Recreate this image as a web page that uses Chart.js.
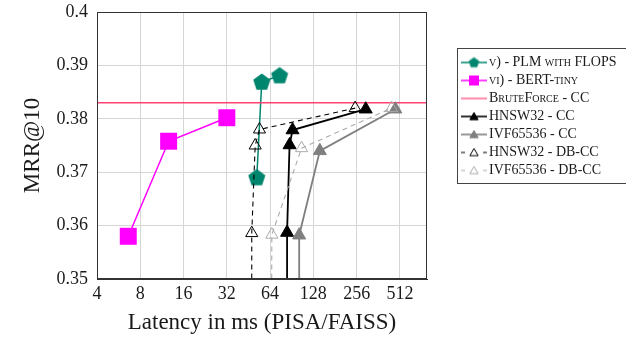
<!DOCTYPE html>
<html>
<head>
<meta charset="utf-8">
<script src="https://cdn.jsdelivr.net/npm/chart.js@4.4.1/dist/chart.umd.min.js"></script>
<style>
  html, body { margin: 0; padding: 0; background: #ffffff; overflow: hidden; }
  #wrap { position: relative; width: 680px; height: 342px; }
</style>
</head>
<body>
<div id="wrap"><canvas id="c" width="680" height="342"></canvas></div>
<script>
// ---------------- data ----------------
const X_TICKS = [4, 8, 16, 32, 64, 128, 256, 512];
const Y_TICKS = [0.35, 0.36, 0.37, 0.38, 0.39, 0.40];
const X_MIN = 4, X_MAX = 790;
const Y_MIN = 0.35, Y_MAX = 0.40;

const SERIES_LABELS = [
  'v) - PLM with FLOPS',
  'vi) - BERT-tiny',
  'BruteForce - CC',
  'HNSW32 - CC',
  'IVF65536 - CC',
  'HNSW32 - DB-CC',
  'IVF65536 - DB-CC'
];

const PLM_LAT = [51.7, 56.0, 74.5];
const PLM_MRR = [0.3690, 0.3869, 0.3881];

const BERT_LAT = [6.6, 12.6, 32.0];
const BERT_MRR = [0.3580, 0.3758, 0.3802];

const BRUTE_LAT = [X_MIN, X_MAX];
const BRUTE_MRR = [0.3830, 0.3830];

const HNSW_CC_LAT = [84.0, 84.0, 87.4, 91.7, 296];
const HNSW_CC_MRR = [0.3400, 0.3587, 0.3751, 0.3779, 0.3818];

const IVF_CC_LAT = [102, 102, 142, 476];
const IVF_CC_MRR = [0.3400, 0.3582, 0.3740, 0.3818];

const HNSW_DB_LAT = [47.7, 47.7, 50.4, 54.0, 250];
const HNSW_DB_MRR = [0.3400, 0.3586, 0.3750, 0.3780, 0.3820];

const IVF_DB_LAT = [65.5, 65.8, 106, 448];
const IVF_DB_MRR = [0.3400, 0.3583, 0.3745, 0.3820];

// ---------------- styles ----------------
const TEAL = '#00866f', MAG = '#ff00ff', PINK = '#ff4272', BLACK = '#000000', GRAY = '#7f7f7f', LGRAY = '#ababab';
const FONT = "'Liberation Serif', 'Times New Roman', serif";

function pentagonCanvas(r, color) {
  const s = Math.ceil(2 * r + 2);
  const c = document.createElement('canvas');
  c.width = s; c.height = s;
  const g = c.getContext('2d');
  g.translate(s / 2, s / 2 + r * 0.05);
  g.beginPath();
  for (let k = 0; k < 5; k++) {
    const a = -Math.PI / 2 + k * 2 * Math.PI / 5;
    g.lineTo(r * Math.cos(a), r * Math.sin(a));
  }
  g.closePath();
  g.fillStyle = color; g.fill();
  return c;
}

function legendSym(o) {
  const W = 40, H = 16, OFF = 2;
  const c = document.createElement('canvas');
  c.width = W; c.height = H;
  const g = c.getContext('2d');
  g.translate(W / 2 + OFF, H / 2);
  g.strokeStyle = o.color; g.lineWidth = o.lw;
  g.beginPath();
  if (o.dashed) {
    g.moveTo(-13, 0); g.lineTo(-9, 0);
    g.moveTo(9, 0); g.lineTo(13, 0);
  } else {
    g.moveTo(-13, 0); g.lineTo(13, 0);
  }
  g.stroke();
  if (o.marker === 'pentagon') {
    const p = pentagonCanvas(5.5, o.color);
    g.drawImage(p, -p.width / 2, -p.height / 2);
  } else if (o.marker === 'rect') {
    g.fillStyle = o.color; g.fillRect(-5, -5, 10, 10);
  } else if (o.marker === 'triangle' || o.marker === 'otriangle') {
    const r = 4.8;
    g.beginPath();
    for (let k = 0; k < 3; k++) {
      const a = -Math.PI / 2 + k * 2 * Math.PI / 3;
      g.lineTo(r * Math.cos(a), r * Math.sin(a) + 0.8);
    }
    g.closePath();
    if (o.marker === 'triangle') { g.fillStyle = o.color; g.fill(); }
    g.lineWidth = 1; g.strokeStyle = o.color; g.stroke();
  }
  return c;
}

const LEGEND_SYMS = [
  legendSym({color: TEAL, lw: 1.5, marker: 'pentagon'}),
  legendSym({color: MAG, lw: 1.5, marker: 'rect'}),
  legendSym({color: PINK, lw: 1.2}),
  legendSym({color: BLACK, lw: 1.6, marker: 'triangle'}),
  legendSym({color: GRAY, lw: 1.6, marker: 'triangle'}),
  legendSym({color: BLACK, lw: 1.1, dashed: true, marker: 'otriangle'}),
  legendSym({color: LGRAY, lw: 1.1, dashed: true, marker: 'otriangle'})
];

const pts = (xs, ys) => xs.map((x, i) => ({x: x, y: ys[i]}));
const PENTA = pentagonCanvas(9, TEAL);

const framePlugin = {
  id: 'frame',
  beforeDraw(chart) {
    const lg = chart.legend, a = chart.chartArea;
    lg.left = a.right + 31;
    lg.top = a.top + 39.5;
    lg.width = 300; lg.height = 140;
    lg.right = lg.left + lg.width;
    lg.bottom = lg.top + lg.height;
  },
  afterDatasetsDraw(chart) {
    const {ctx, chartArea: a} = chart;
    ctx.save();
    ctx.strokeStyle = '#333333'; ctx.lineWidth = 1;
    const l = Math.round(a.left) + 0.5, t = Math.round(a.top) + 0.5;
    const r = Math.round(a.right) - 0.5, b = Math.round(a.bottom) - 0.5;
    ctx.strokeRect(l, t, r - l, b - t);
    ctx.restore();
  },
  afterDraw(chart) {
    const {ctx} = chart, lg = chart.legend;
    ctx.save();
    ctx.strokeStyle = '#444444'; ctx.lineWidth = 1;
    ctx.strokeRect(Math.round(lg.left) - 0.5, Math.round(lg.top - 3) - 0.5, 400, 135);
    ctx.restore();
  }
};

Chart.defaults.font.family = FONT;
Chart.defaults.color = '#1a1a1a';

new Chart(document.getElementById('c'), {
  type: 'line',
  data: {
    datasets: [
      { label: SERIES_LABELS[0], data: pts(PLM_LAT, PLM_MRR), borderColor: TEAL, backgroundColor: TEAL,
        borderWidth: 1.5, pointStyle: PENTA, pointRadius: 9, order: 6, clip: 0 },
      { label: SERIES_LABELS[1], data: pts(BERT_LAT, BERT_MRR), borderColor: MAG, backgroundColor: MAG,
        borderWidth: 1.5, pointStyle: 'rect', pointRadius: 12, pointBackgroundColor: MAG, pointBorderColor: MAG,
        pointBorderWidth: 0, order: 5, clip: 0 },
      { label: SERIES_LABELS[2], data: pts(BRUTE_LAT, BRUTE_MRR), borderColor: PINK, borderWidth: 1.5,
        pointRadius: 0, order: 4, clip: 0 },
      { label: SERIES_LABELS[3], data: pts(HNSW_CC_LAT, HNSW_CC_MRR), borderColor: BLACK, borderWidth: 1.8,
        pointStyle: 'triangle', pointRadius: 7.5, pointBackgroundColor: BLACK, pointBorderColor: BLACK,
        pointBorderWidth: 1, order: 3, clip: 0 },
      { label: SERIES_LABELS[4], data: pts(IVF_CC_LAT, IVF_CC_MRR), borderColor: GRAY, borderWidth: 1.8,
        pointStyle: 'triangle', pointRadius: 7.5, pointBackgroundColor: GRAY, pointBorderColor: GRAY,
        pointBorderWidth: 1, order: 2, clip: 0 },
      { label: SERIES_LABELS[5], data: pts(HNSW_DB_LAT, HNSW_DB_MRR), borderColor: BLACK, borderWidth: 1.1,
        borderDash: [5, 4], pointStyle: 'triangle', pointRadius: 7, pointBackgroundColor: 'rgba(0,0,0,0)',
        pointBorderColor: BLACK, pointBorderWidth: 1, order: 1, clip: 0 },
      { label: SERIES_LABELS[6], data: pts(IVF_DB_LAT, IVF_DB_MRR), borderColor: LGRAY, borderWidth: 1.1,
        borderDash: [5, 4], pointStyle: 'triangle', pointRadius: 7, pointBackgroundColor: 'rgba(0,0,0,0)',
        pointBorderColor: LGRAY, pointBorderWidth: 1, order: 0, clip: 0 }
    ]
  },
  options: {
    responsive: false,
    animation: false,
    events: [],
    layout: { padding: { left: 0, top: 11, right: 103, bottom: 0 } },
    scales: {
      x: {
        type: 'logarithmic', min: X_MIN, max: X_MAX,
        afterBuildTicks: s => { s.ticks = X_TICKS.map(v => ({value: v})); },
        afterFit: s => { s.height = 63; s.paddingLeft = 0; s.paddingRight = 0; s.paddingTop = 0; s.paddingBottom = 0; },
        ticks: { callback: v => String(v), autoSkip: false, maxRotation: 0, font: { size: 18 }, padding: 4, color: '#1a1a1a' },
        grid: { color: '#d6d6d6', lineWidth: 1, drawTicks: false },
        border: { color: '#333333', width: 1 },
        title: { display: true, text: 'Latency in ms (PISA/FAISS)', font: { size: 23 }, padding: { top: 0, bottom: 5 }, color: '#1a1a1a' }
      },
      y: {
        type: 'linear', min: Y_MIN, max: Y_MAX,
        afterBuildTicks: s => { s.ticks = Y_TICKS.map(v => ({value: v})); },
        afterFit: s => { s.width = 97; s.paddingLeft = 0; s.paddingRight = 0; s.paddingTop = 0; s.paddingBottom = 0; },
        ticks: { callback: v => String(+Number(v).toFixed(2)), font: { size: 18 }, padding: 9, color: '#1a1a1a' },
        grid: { color: '#d6d6d6', lineWidth: 1, drawTicks: false },
        border: { color: '#333333', width: 1 },
        title: { display: true, text: 'MRR@10', font: { size: 23 }, padding: { top: 19, bottom: 0 }, color: '#1a1a1a' }
      }
    },
    plugins: {
      tooltip: { enabled: false },
      legend: {
        display: true,
        position: 'right',
        align: 'start',
        maxWidth: 150,
        labels: {
          usePointStyle: true,
          pointStyleWidth: 20,
          boxHeight: 14,
          padding: 4,
          color: '#1a1a1a',
          font: { size: 14, weight: 'small-caps', family: FONT },
          generateLabels: chart => chart.data.datasets.map((ds, i) => ({
            text: ds.label,
            pointStyle: LEGEND_SYMS[i],
            datasetIndex: i,
            hidden: false,
            fontColor: '#1a1a1a',
            fillStyle: 'rgba(0,0,0,0)',
            strokeStyle: 'rgba(0,0,0,0)',
            lineWidth: 0,
            rotation: 0
          }))
        }
      }
    }
  },
  plugins: [framePlugin]
});
</script>
</body>
</html>
